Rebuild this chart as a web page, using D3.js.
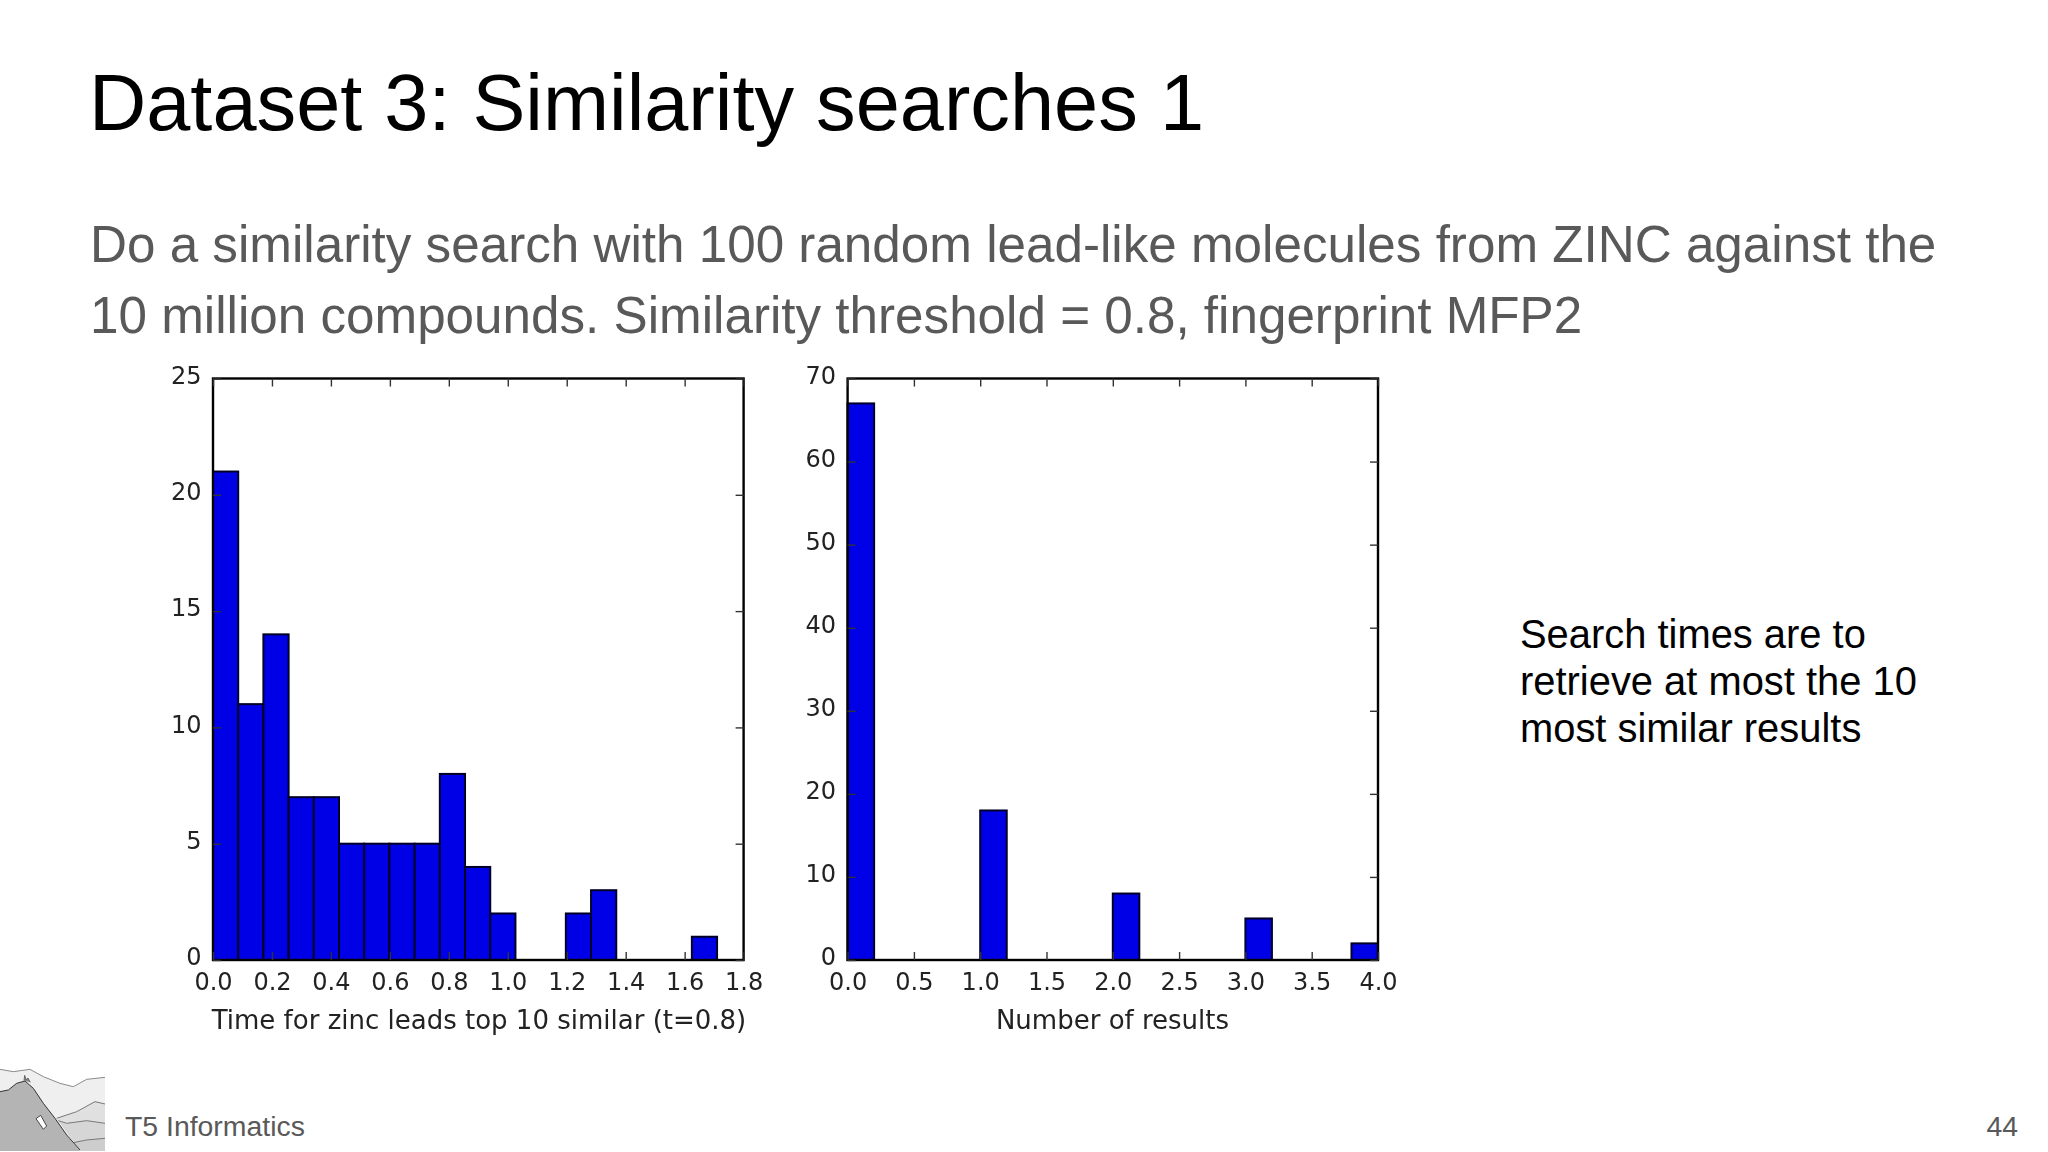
<!DOCTYPE html>
<html>
<head>
<meta charset="utf-8">
<script src="https://cdn.jsdelivr.net/npm/d3@7/dist/d3.min.js"></script>
<style>
html,body{margin:0;padding:0;background:#fff;}
svg{display:block;}
.slide{font-family:"Liberation Sans",Arial,sans-serif;}
.plot text{font-family:"DejaVu Sans",sans-serif;font-size:24px;fill:#222;}
</style>
</head>
<body>
<script>
// values
var timeCounts=[21,11,14,7,7,5,5,5,5,8,4,2,0,0,2,3,0,0,0,1];
var timeBinWidth=0.0855;
var timeXTicks=[0,0.2,0.4,0.6,0.8,1.0,1.2,1.4,1.6,1.8];
var timeYTicks=[0,5,10,15,20,25];
var resultCounts=[67,0,0,0,0,18,0,0,0,0,8,0,0,0,0,5,0,0,0,2];
var resultBinWidth=0.2;
var resultXTicks=[0,0.5,1.0,1.5,2.0,2.5,3.0,3.5,4.0];
var resultYTicks=[0,10,20,30,40,50,60,70];
var subtitleLines=['Do a similarity search with 100 random lead-like molecules from ZINC against the','10 million compounds. Similarity threshold = 0.8, fingerprint MFP2'];
var noteLines=['Search times are to','retrieve at most the 10','most similar results'];

var svg=d3.select('body').append('svg').attr('width',2048).attr('height',1152).attr('class','slide');
svg.append('rect').attr('width',2048).attr('height',1152).attr('fill','#fff');

// the original plots are a soft jpeg
var defs=svg.append('defs');
defs.append('filter').attr('id','soft').append('feGaussianBlur').attr('stdDeviation',0.7);

svg.append('text').attr('x',89).attr('y',130).attr('font-size',79.3).attr('fill','#000').text('Dataset 3: Similarity searches 1');
svg.selectAll('.sub').data(subtitleLines).enter().append('text').attr('class','sub')
    .attr('x',90).attr('y',function(d,i){return 262+i*70.5;})
    .attr('font-size',51.2).attr('fill','#595959').text(function(d){return d;});
svg.selectAll('.note').data(noteLines).enter().append('text').attr('class','note')
    .attr('x',1520).attr('y',function(d,i){return 648+i*47;})
    .attr('font-size',39.9).attr('fill','#000').text(function(d){return d;});
svg.append('text').attr('x',125).attr('y',1136).attr('font-size',28.4).attr('fill','#595959').text('T5 Informatics');
svg.append('text').attr('x',2018).attr('y',1136).attr('font-size',28.4).attr('fill','#595959').attr('text-anchor','end').text('44');

function hist(left,right,counts,binWidth,xMax,yMax,xTicks,yTicks,label,labelX){
    var top=378.5,bottom=960;
    var x=d3.scaleLinear().domain([0,xMax]).range([left,right]);
    var y=d3.scaleLinear().domain([0,yMax]).range([bottom,top]);
    var g=svg.append('g').attr('class','plot').attr('filter','url(#soft)');
    g.selectAll('.bar').data(counts).enter().append('rect').attr('class','bar')
        .attr('x',function(d,i){return x(i*binWidth);})
        .attr('y',function(d){return y(d);})
        .attr('width',x(binWidth)-x(0))
        .attr('height',function(d){return y(0)-y(d);})
        .attr('fill','#0000e6').attr('stroke','#000028').attr('stroke-width',2);
    g.append('rect').attr('x',left).attr('y',top).attr('width',right-left).attr('height',bottom-top)
        .attr('fill','none').attr('stroke','#000').attr('stroke-width',2.4);
    var fmt=d3.format('.1f');
    var bAxis=g.append('g').attr('transform','translate(0,'+bottom+')')
        .call(d3.axisBottom(x).tickValues(xTicks).tickFormat(fmt).tickSizeInner(-8).tickSizeOuter(0).tickPadding(12.5));
    var tAxis=g.append('g').attr('transform','translate(0,'+top+')')
        .call(d3.axisTop(x).tickValues(xTicks).tickFormat('').tickSizeInner(-8).tickSizeOuter(0));
    var lAxis=g.append('g').attr('transform','translate('+left+',0)')
        .call(d3.axisLeft(y).tickValues(yTicks).tickSizeInner(-8).tickSizeOuter(0).tickPadding(11.5));
    lAxis.selectAll('text').attr('dy','0.2em');
    var rAxis=g.append('g').attr('transform','translate('+right+',0)')
        .call(d3.axisRight(y).tickValues(yTicks).tickFormat('').tickSizeInner(-8).tickSizeOuter(0));
    [bAxis,tAxis,lAxis,rAxis].forEach(function(a){
        a.select('.domain').remove();
        a.selectAll('line').attr('stroke','#333').attr('stroke-width',1.4);
    });
    g.append('text').attr('x',labelX).attr('y',1029).attr('text-anchor','middle').style('font-size','26px').text(label);
}
hist(213,743.6,timeCounts,timeBinWidth,1.8,25,timeXTicks,timeYTicks,'Time for zinc leads top 10 similar (t=0.8)',479);
hist(847.6,1378,resultCounts,resultBinWidth,4,70,resultXTicks,resultYTicks,'Number of results',1112.5);

// logo, traced by hand
var logo=svg.append('g').attr('transform','translate(0,1050) scale(0.3333)').attr('filter','url(#soft)');
function shape(d,fill,stroke,w){logo.append('path').attr('d',d).attr('fill',fill).attr('stroke',stroke||'none').attr('stroke-width',w||3);}
shape('M0,58 L40,65 L90,58 L130,80 L180,100 L220,110 L260,88 L315,82 L315,303 L0,303 Z','#efefef');
shape('M0,58 L40,65 L90,58 L130,80 L180,100 L220,110 L260,88 L315,82','none','#8a8a8a');
shape('M170,205 L230,185 L285,155 L315,162 L315,303 L240,303 Z','#e0e0e0');
shape('M170,205 L230,185 L285,155 L315,162','none','#777');
shape('M175,212 L200,220 L260,212 L315,220 L315,303 L240,303 Z','#d6d6d6');
shape('M175,212 L200,220 L260,212 L315,220','none','#777');
shape('M220,278 L260,270 L315,265 L315,303 L240,303 Z','#cdcdcd');
shape('M220,278 L260,270 L315,265','none','#777');
shape('M0,125 L25,120 L50,100 L75,93 L100,115 L130,160 L165,205 L200,255 L240,303 L0,303 Z','#b4b4b4');
shape('M0,125 L25,120 L50,100 L75,93 L100,115 L130,160 L165,205 L200,255 L240,300','none','#333');
shape('M108,206 L122,196 L140,228 L130,238 Z','#fff','#444',3);
shape('M72,92 L74,76 L79,90 L84,84 L91,97','#888','#444',2);
</script>
</body>
</html>
